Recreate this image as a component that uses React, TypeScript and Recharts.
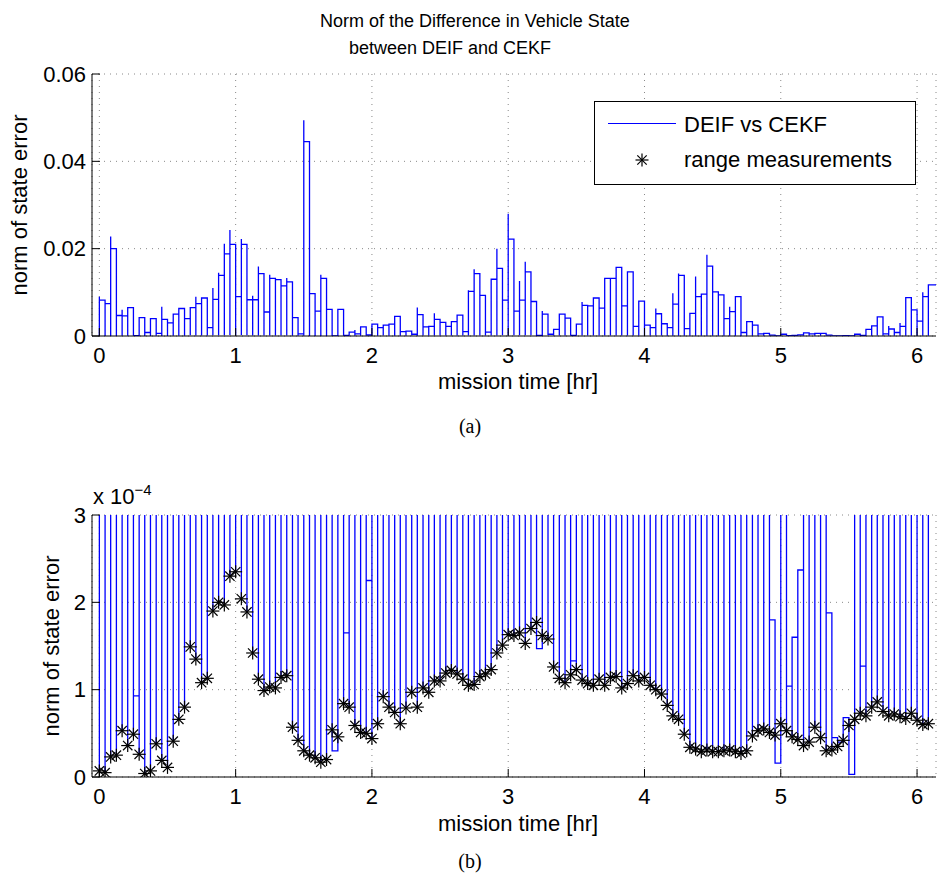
import React from "react";
import {
  LineChart,
  ComposedChart,
  Line,
  Scatter,
  XAxis,
  YAxis,
  CartesianGrid,
  Legend
} from "recharts";

// range fix epochs [hr], one fix about every 2.5 min
const measTimes = [
  0, 0.042, 0.083, 0.125, 0.167, 0.208, 0.25, 0.292, 0.333, 0.375, 0.417, 0.458,
  0.5, 0.542, 0.583, 0.625, 0.667, 0.708, 0.75, 0.792, 0.833, 0.875, 0.917, 0.958,
  1, 1.042, 1.083, 1.125, 1.167, 1.208, 1.25, 1.292, 1.333, 1.375, 1.417, 1.458,
  1.5, 1.542, 1.583, 1.625, 1.667, 1.708, 1.75, 1.792, 1.833, 1.875, 1.917, 1.958,
  2, 2.042, 2.083, 2.125, 2.167, 2.208, 2.25, 2.292, 2.333, 2.375, 2.417, 2.458,
  2.5, 2.542, 2.583, 2.625, 2.667, 2.708, 2.75, 2.792, 2.833, 2.875, 2.917, 2.958,
  3, 3.042, 3.083, 3.125, 3.167, 3.208, 3.25, 3.292, 3.333, 3.375, 3.417, 3.458,
  3.5, 3.542, 3.583, 3.625, 3.667, 3.708, 3.75, 3.792, 3.833, 3.875, 3.917, 3.958,
  4, 4.042, 4.083, 4.125, 4.167, 4.208, 4.25, 4.292, 4.333, 4.375, 4.417, 4.458,
  4.5, 4.542, 4.583, 4.625, 4.667, 4.708, 4.75, 4.792, 4.833, 4.875, 4.917, 4.958,
  5, 5.042, 5.083, 5.125, 5.167, 5.208, 5.25, 5.292, 5.333, 5.375, 5.417, 5.458,
  5.5, 5.542, 5.583, 5.625, 5.667, 5.708, 5.75, 5.792, 5.833, 5.875, 5.917, 5.958,
  6, 6.042, 6.083
];

// state error right at each range fix (x 1e-4)
const rangeErr = [
  0.07, 0.05, 0.23, 0.25, 0.53, 0.36, 0.49, 0.26, 0.04, 0.07, 0.38, 0.19,
  0.11, 0.41, 0.66, 0.8, 1.49, 1.35, 1.08, 1.13, 1.9, 2.0, 1.97, 2.3,
  2.35, 2.04, 1.89, 1.42, 1.12, 0.99, 1.03, 1.02, 1.14, 1.16, 0.57, 0.42,
  0.3, 0.25, 0.22, 0.17, 0.2, 0.54, 0.46, 0.84, 0.8, 0.59, 0.51, 0.5,
  0.44, 0.61, 0.92, 0.8, 0.74, 0.61, 0.79, 0.97, 0.8, 1.02, 0.97, 1.1,
  1.1, 1.19, 1.22, 1.18, 1.12, 1.05, 1.06, 1.15, 1.18, 1.23, 1.42, 1.51,
  1.63, 1.62, 1.65, 1.53, 1.7, 1.77, 1.62, 1.58, 1.26, 1.13, 1.08, 1.17,
  1.23, 1.11, 1.07, 1.05, 1.12, 1.05, 1.14, 1.15, 1.02, 1.07, 1.16, 1.1,
  1.14, 1.05, 1.0, 0.95, 0.82, 0.7, 0.66, 0.49, 0.34, 0.32, 0.29, 0.31,
  0.29, 0.29, 0.3, 0.31, 0.29, 0.27, 0.3, 0.47, 0.53, 0.55, 0.51, 0.48,
  0.61, 0.53, 0.46, 0.43, 0.36, 0.4, 0.57, 0.45, 0.3, 0.31, 0.35, 0.42,
  0.59, 0.66, 0.73, 0.7, 0.8, 0.86, 0.75, 0.7, 0.72, 0.69, 0.67, 0.73,
  0.65, 0.6, 0.61
];

// state error held between one fix and the next
const holdErr = [
  0.0082, 0.0074, 0.02, 0.0047, 0.0046, 0.0065, 0.000093, 0.0042, 0.0008, 0.004, 0.0006, 0.0038,
  0.003, 0.005, 0.0063, 0.004, 0.0065, 0.0074, 0.0087, 0.0019, 0.0084, 0.0139, 0.0188, 0.021,
  0.009, 0.021, 0.0083, 0.0083, 0.0143, 0.0055, 0.0132, 0.0129, 0.0115, 0.0124, 0.0042, 0.0005,
  0.0445, 0.0097, 0.0057, 0.0132, 0.0061, 0.00003, 0.0061, 0.000165, 0.0009, 0.0005, 0.0021, 0.000225,
  0.0027, 0.0019, 0.0025, 0.0027, 0.0045, 0.001, 0.0011, 0.0004, 0.0049, 0.0021, 0.0022, 0.0038,
  0.0031, 0.0022, 0.0033, 0.0048, 0.001, 0.0102, 0.0143, 0.0093, 0.0009, 0.013, 0.0155, 0.0082,
  0.0222, 0.0057, 0.0082, 0.0147, 0.0079, 0.000147, 0.005, 0.0004, 0.0015, 0.005, 0.0041, 0.000133,
  0.0027, 0.007, 0.0069, 0.0087, 0.0064, 0.0132, 0.0132, 0.0157, 0.0069, 0.0147, 0.0022, 0.008,
  0.0025, 0.0019, 0.0051, 0.0028, 0.0019, 0.0073, 0.0139, 0.0017, 0.0052, 0.009, 0.0096, 0.016,
  0.0101, 0.0094, 0.004, 0.0056, 0.009, 0.0008, 0.0033, 0.0025, 0.0005, 0.0006, 0.00018, 0.000016,
  0.0004, 0.000104, 0.00016, 0.000237, 0.0007, 0.0005, 0.0006, 0.0006, 0.000188, 0.000045, 0.00004, 0.000068,
  0.000003, 0.0004, 0.000127, 0.0015, 0.0023, 0.0044, 0.0005, 0.0016, 0.0008, 0.0022, 0.0088, 0.006,
  0.0034, 0.009, 0.0117
];

// overshoot just after a fix (fix number, 1-based, and peak value)
const spikeFix = [1, 3, 5, 12, 18, 21, 22, 23, 24, 26, 28, 29, 31, 34, 37, 38, 40, 46, 57, 60,
  66, 67, 71, 72, 73, 75, 76, 79, 86, 99, 102, 103, 106, 108, 112, 140, 142, 146];
const spikeErr = [0.009, 0.0228, 0.006, 0.0067, 0.009, 0.011, 0.0145, 0.0211, 0.0243, 0.0222, 0.0092,
  0.0159, 0.014, 0.0133, 0.0494, 0.0103, 0.014, 0.0014, 0.0065, 0.0052, 0.0105, 0.0153, 0.02, 0.0087,
  0.028, 0.0126, 0.017, 0.0057, 0.0078, 0.0063, 0.0098, 0.0143, 0.0136, 0.0186, 0.0067, 0.0023, 0.003, 0.01];

const xTicks = [0, 1, 2, 3, 4, 5, 6];
const topTicks = [0, 0.02, 0.04, 0.06];
const lowTicks = [0, 1, 2, 3];

const X_DOMAIN: [number, number] = [-0.054, 6.139];
const FONT = "'Liberation Sans', Arial, sans-serif";
const margin = { top: 74, right: 1, bottom: 24, left: 32 };
const tickStyle = { fill: "#000", fontSize: 22, fontFamily: FONT };
const BLUE = "#0000ff";

// build the error trace: drop to the fix value, overshoot, hold until next fix
const spikeAt = new Map(spikeFix.map((n, i) => [n, spikeErr[i]]));
const trace: { t: number; v: number }[] = [];
measTimes.forEach((t, i) => {
  const next = i + 1 < measTimes.length ? measTimes[i + 1] : X_DOMAIN[1];
  trace.push({ t, v: rangeErr[i] * 1e-4 });
  const s = spikeAt.get(i + 1);
  if (s !== undefined) trace.push({ t, v: s });
  trace.push({ t, v: holdErr[i] });
  trace.push({ t: next, v: holdErr[i] });
});
const traceLow = trace.map((p) => ({ t: p.t, v: p.v * 1e4 }));
const fixes = measTimes.map((t, i) => ({ t, e: rangeErr[i] }));

const noTick = () => <g />;

const Asterisk = (props: any) => {
  const { cx, cy } = props;
  const r = 6.5;
  const d = r * 0.72;
  return (
    <g stroke="#000" strokeWidth={1.2}>
      <line x1={cx - r} y1={cy} x2={cx + r} y2={cy} />
      <line x1={cx} y1={cy - r} x2={cx} y2={cy + r} />
      <line x1={cx - d} y1={cy - d} x2={cx + d} y2={cy + d} />
      <line x1={cx - d} y1={cy + d} x2={cx + d} y2={cy - d} />
    </g>
  );
};

const LegendBox = () => (
  <svg width={323} height={84} style={{ display: "block" }}>
    <rect x={0.5} y={0.5} width={321} height={83} fill="#fff" stroke="#000" />
    <line x1={14} y1={22.5} x2={82} y2={22.5} stroke={BLUE} />
    <text x={90} y={30.5} fontSize={22} fontFamily={FONT}>DEIF vs CEKF</text>
    <Asterisk cx={48} cy={59} />
    <text x={90} y={65.5} fontSize={22} fontFamily={FONT}>range measurements</text>
  </svg>
);

const frame = (yDomain: [number, number], yTicks: number[], fmt: (v: number) => string) => [
  <XAxis
    key="xb"
    dataKey="t"
    type="number"
    domain={X_DOMAIN}
    ticks={xTicks}
    allowDataOverflow
    height={40}
    tickSize={-8}
    tickMargin={19}
    tick={tickStyle}
    axisLine={{ stroke: "#000" }}
    tickLine={{ stroke: "#000" }}
  />,
  <XAxis
    key="xt"
    xAxisId="top"
    orientation="top"
    type="number"
    domain={X_DOMAIN}
    ticks={xTicks}
    allowDataOverflow
    height={0}
    tickSize={-8}
    tick={noTick}
    axisLine={{ stroke: "#000" }}
    tickLine={{ stroke: "#000" }}
  />,
  <YAxis
    key="yl"
    type="number"
    domain={yDomain}
    ticks={yTicks}
    allowDataOverflow
    width={60}
    tickSize={-8}
    tickMargin={14}
    tick={tickStyle}
    tickFormatter={fmt}
    axisLine={{ stroke: "#000" }}
    tickLine={{ stroke: "#000" }}
  />,
  <YAxis
    key="yr"
    yAxisId="right"
    orientation="right"
    type="number"
    domain={yDomain}
    ticks={yTicks}
    allowDataOverflow
    width={0}
    tickSize={-8}
    tick={noTick}
    axisLine={{ stroke: "#000" }}
    tickLine={{ stroke: "#000" }}
  />,
  <CartesianGrid key="g" stroke="#888" strokeDasharray="1 5" />
];

export default function App() {
  return (
    <div
      style={{
        position: "absolute",
        left: 0,
        top: 0,
        width: 937,
        height: 882,
        background: "#fff",
        overflow: "hidden",
        fontFamily: FONT
      }}
    >
      <svg width={937} height={882} style={{ position: "absolute", left: 0, top: 0 }}>
        <g fontFamily={FONT} fill="#000">
          <text x={320} y={27} fontSize={18}>Norm of the Difference in Vehicle State</text>
          <text x={349} y={54} fontSize={18}>between DEIF and CEKF</text>
          <text x={518} y={389} fontSize={22} textAnchor="middle">mission time [hr]</text>
          <text transform="translate(27,205) rotate(-90)" fontSize={22} textAnchor="middle">
            norm of state error
          </text>
          <text x={518} y={831} fontSize={22} textAnchor="middle">mission time [hr]</text>
          <text transform="translate(59,646) rotate(-90)" fontSize={22} textAnchor="middle">
            norm of state error
          </text>
          <text x={93} y={504} fontSize={22}>
            x 10<tspan dy={-9} fontSize={15}>−4</tspan>
          </text>
        </g>
        <g fontFamily="'Liberation Serif', 'Times New Roman', serif" fontSize={20} fill="#000">
          <text x={470} y={433} textAnchor="middle">(a)</text>
          <text x={470} y={868} textAnchor="middle">(b)</text>
        </g>
      </svg>

      <div style={{ position: "absolute", left: 0, top: 0 }}>
        <LineChart width={937} height={400} margin={margin}>
          {frame([0, 0.06], topTicks, (v) => (v === 0 ? "0" : v.toFixed(2)))}
          <Line
            data={trace}
            dataKey="v"
            type="linear"
            stroke={BLUE}
            strokeWidth={1.3}
            dot={false}
            activeDot={false}
            isAnimationActive={false}
          />
          <Legend
            verticalAlign="middle"
            align="center"
            layout="horizontal"
            content={() => <LegendBox />}
            wrapperStyle={{ left: 594, top: 101, width: 323, height: 84 }}
          />
        </LineChart>
      </div>

      <div style={{ position: "absolute", left: 0, top: 441 }}>
        <ComposedChart width={937} height={400} margin={margin}>
          {frame([0, 3], lowTicks, (v) => String(v))}
          <Line
            data={traceLow}
            dataKey="v"
            type="linear"
            stroke={BLUE}
            strokeWidth={1.3}
            dot={false}
            activeDot={false}
            isAnimationActive={false}
          />
          <Scatter data={fixes} dataKey="e" shape={<Asterisk />} isAnimationActive={false} />
        </ComposedChart>
      </div>
    </div>
  );
}
